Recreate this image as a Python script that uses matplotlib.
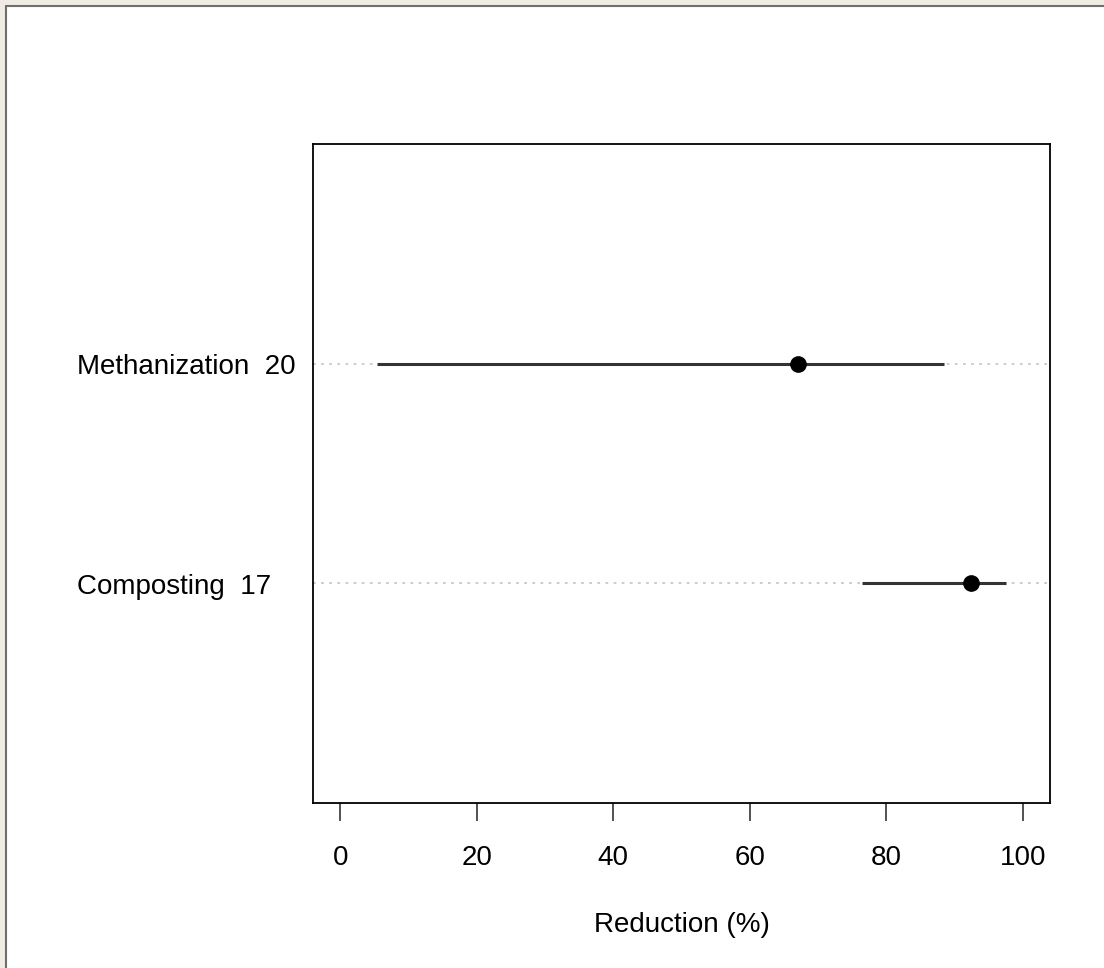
import numpy as np
import matplotlib
matplotlib.use("Agg")
import matplotlib.pyplot as plt
from matplotlib.patches import Rectangle
from matplotlib.transforms import blended_transform_factory, offset_copy

plt.rcParams['font.family'] = ['Liberation Sans', 'DejaVu Sans']

# data
labels  = ["Composting  17", "Methanization  20"]
est     = [92.4, 67.1]
ci_low  = [76.4, 5.4]
ci_high = [97.5, 88.4]
xticks  = [0, 20, 40, 60, 80, 100]

W, H = 1104, 968
fig = plt.figure(figsize=(W/100, H/100), dpi=100)
fig.patch.set_facecolor('#efebe4')

# white panel with grey border on top / left
panel = Rectangle((6/W, -0.1), 1.2, (H-6)/H + 0.1, transform=fig.transFigure,
                  facecolor='white', edgecolor='#6e6e6e', linewidth=1.5, zorder=-10)
fig.patches.append(panel)

ax = fig.add_axes([313/W, (H-803)/H, (1050-313)/W, (803-144)/H])
ax.set_facecolor('white')

ypos = np.arange(1, len(labels)+1)

# dotted guide lines across the plot
for y in ypos:
    ax.axhline(y, color='#c8c8c8', linestyle=(0, (1.5, 3)), linewidth=1.3, zorder=1)

ax.hlines(ypos, ci_low, ci_high, color='#333333', linewidth=2.2, zorder=2)
ax.plot(est, ypos, 'o', color='black', markersize=11, zorder=3)

fs = 20
ax.set_xlim(-4, 104)
ax.set_ylim(0, 3)
ax.set_yticks([])
ax.set_xticks(xticks)
ax.set_xticklabels([str(t) for t in xticks], fontsize=fs)
ax.tick_params(axis='x', direction='out', length=13, width=1.2, color='#333333', pad=17)
for s in ax.spines.values():
    s.set_linewidth(1.3)
    s.set_color('black')

ax.set_xlabel("Reduction (%)", fontsize=fs, labelpad=30)

# row labels left aligned in the margin, baseline a bit below the row
trans = blended_transform_factory(fig.transFigure, ax.transData)
trans = offset_copy(trans, fig=fig, y=-7.5, units='points')
for y, lab in zip(ypos, labels):
    ax.text(77/W, y, lab, transform=trans, ha='left', va='baseline', fontsize=fs)

fig.savefig("out.png", dpi=100, facecolor=fig.get_facecolor())
